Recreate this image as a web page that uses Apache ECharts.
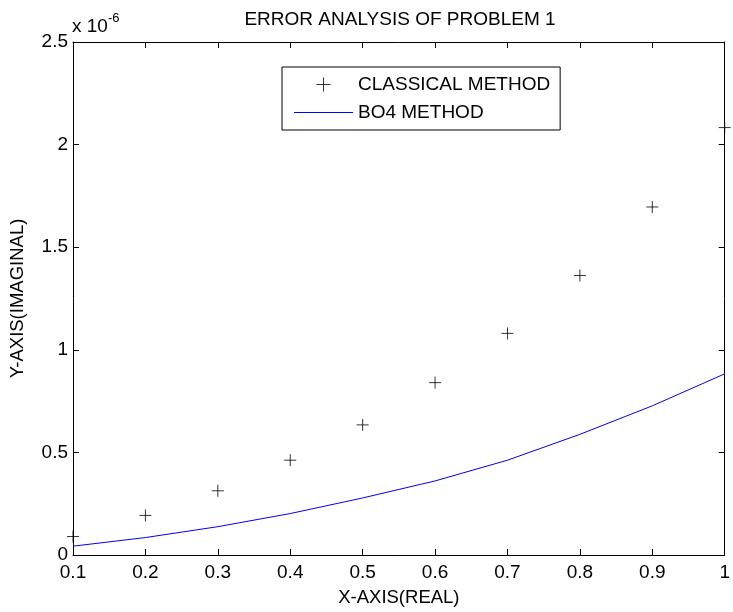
<!DOCTYPE html>
<html>
<head>
<meta charset="utf-8">
<script src="https://cdn.jsdelivr.net/npm/echarts@6/dist/echarts.min.js"></script>
<style>html,body{margin:0;padding:0;background:#fff}#c{width:733px;height:612px}</style>
</head>
<body>
<div id="c"></div>
<script>
// Data (values in units of 1e-6)
var xValues = [0.1, 0.2, 0.3, 0.4, 0.5, 0.6, 0.7, 0.8, 0.9, 1.0];
var classicalValues = [0.090, 0.193, 0.313, 0.462, 0.634, 0.840, 1.080, 1.362, 1.696, 2.083];
var bo4Values = [0.043, 0.085, 0.138, 0.202, 0.278, 0.361, 0.462, 0.588, 0.727, 0.883];
var seriesNames = ['CLASSICAL METHOD', 'BO4 METHOD'];
var titleText = 'ERROR ANALYSIS OF PROBLEM 1';
var xName = 'X-AXIS(REAL)';
var yName = 'Y-AXIS(IMAGINAL)';

var FONT = 'Liberation Sans, Arial, sans-serif';
var plusPath = 'path://M0,6L12,6M6,0L6,12';
var linePath = 'path://M0,0L59,0L59,1L0,1Z';

var chart = echarts.init(document.getElementById('c'), null, {renderer: 'canvas'});

function pairs(vals) { return xValues.map(function (x, i) { return [x, vals[i]]; }); }

var axisCommon = {
  axisLine: {show: true, onZero: false, lineStyle: {color: '#000', width: 1}},
  axisTick: {show: true, inside: true, length: 6, lineStyle: {color: '#000'}},
  splitLine: {show: false}
};

chart.setOption({
  animation: false,
  backgroundColor: '#fff',
  textStyle: {fontFamily: FONT},
  title: {
    text: titleText, left: 400, textAlign: 'center', top: 10, padding: 0,
    textStyle: {fontFamily: FONT, fontSize: 19, fontWeight: 'normal', color: '#000'}
  },
  grid: {left: 72, right: 5, top: 42, bottom: 51, containLabel: false},
  legend: {
    orient: 'vertical', left: 282, top: 67,
    padding: [8, 10, 8, 12],
    borderColor: '#000', borderWidth: 1, backgroundColor: '#fff', borderRadius: 0,
    itemWidth: 59, itemHeight: 14, itemGap: 9, itemTextGap: 8,
    symbolKeepAspect: true,
    textStyle: {fontFamily: FONT, fontSize: 19, color: '#000'},
    data: [
      {name: seriesNames[0], icon: plusPath, itemStyle: {color: 'none', borderColor: '#000', borderWidth: 1}},
      {name: seriesNames[1], icon: linePath, itemStyle: {color: '#0000ff', borderWidth: 0}}
    ]
  },
  xAxis: [
    Object.assign({
      type: 'value', min: 0.1, max: 1, interval: 0.1, position: 'bottom',
      name: xName, nameLocation: 'middle', nameGap: 33,
      nameTextStyle: {fontFamily: FONT, fontSize: 18.5, color: '#000'},
      axisLabel: {color: '#000', fontSize: 19, fontFamily: FONT, margin: 8,
        formatter: function (v) { return String(Number(v.toFixed(1))); }}
    }, axisCommon),
    Object.assign({
      type: 'value', min: 0.1, max: 1, interval: 0.1, position: 'top',
      axisLabel: {show: false}
    }, axisCommon)
  ],
  yAxis: [
    Object.assign({
      type: 'value', min: 0, max: 2.5, interval: 0.5, position: 'left',
      name: yName, nameLocation: 'middle', nameGap: 46,
      nameTextStyle: {fontFamily: FONT, fontSize: 18.5, color: '#000'},
      axisLabel: {color: '#000', fontSize: 19, fontFamily: FONT, margin: 5}
    }, axisCommon),
    Object.assign({
      type: 'value', min: 0, max: 2.5, interval: 0.5, position: 'right',
      axisLabel: {show: false}
    }, axisCommon)
  ],
  graphic: [{
    type: 'text', left: 72, top: 12,
    style: {
      text: '{a|x 10}{b|-6}',
      rich: {
        a: {fontFamily: FONT, fontSize: 19, fill: '#000', verticalAlign: 'bottom', lineHeight: 24},
        b: {fontFamily: FONT, fontSize: 13, fill: '#000', verticalAlign: 'top', lineHeight: 24, padding: [0, 0, 12, 0]}
      }
    }
  }],
  series: [
    {
      name: seriesNames[0], type: 'scatter', xAxisIndex: 0, yAxisIndex: 0,
      symbol: plusPath, symbolSize: 12,
      itemStyle: {color: 'none', borderColor: '#000', borderWidth: 1},
      data: pairs(classicalValues), z: 3
    },
    {
      name: seriesNames[1], type: 'line', xAxisIndex: 0, yAxisIndex: 0,
      symbol: 'none', showSymbol: false,
      lineStyle: {color: '#0000ff', width: 1},
      itemStyle: {color: '#0000ff'},
      data: pairs(bo4Values), z: 2
    }
  ]
});
</script>
</body>
</html>
